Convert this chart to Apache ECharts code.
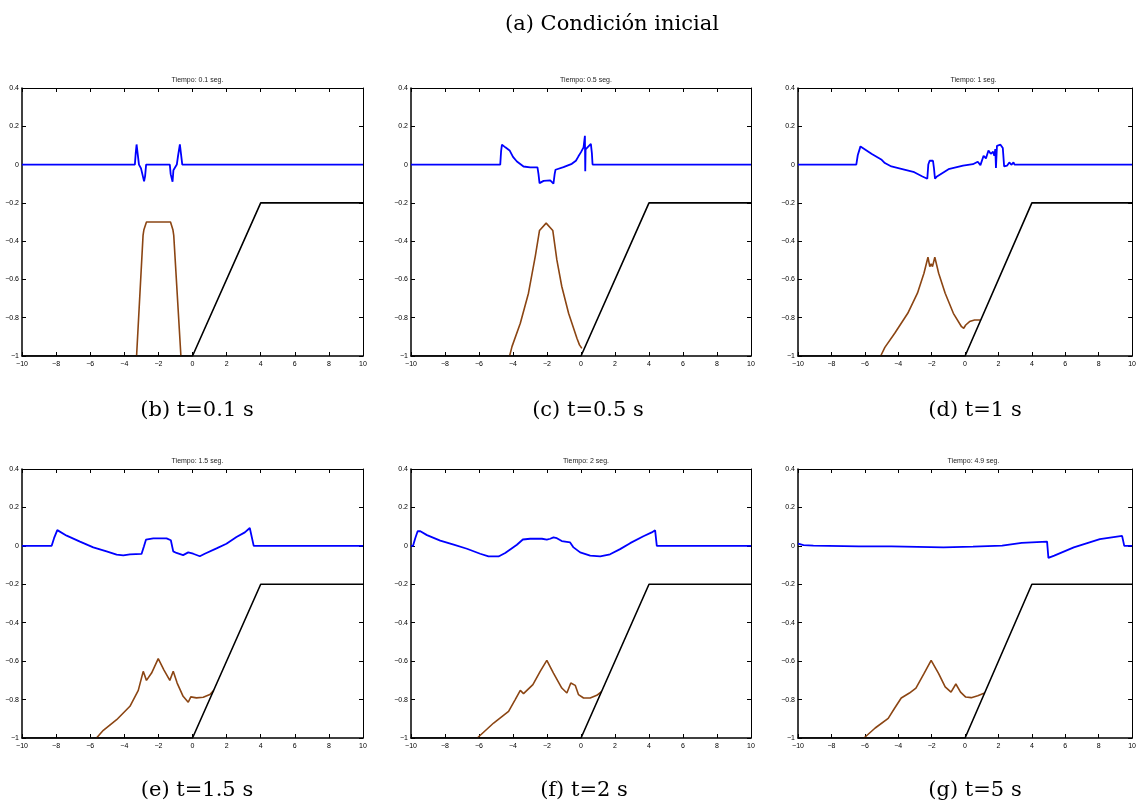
<!DOCTYPE html>
<html>
<head>
<meta charset="utf-8">
<script src="https://cdn.jsdelivr.net/npm/echarts@6/dist/echarts.min.js"></script>
<style>
html,body{margin:0;padding:0;background:#fff;}
#c{width:1139px;height:804px;}
</style>
</head>
<body>
<div id="c"></div>
<script>
// ---------- data ----------
const panelTitles = ["Tiempo: 0.1 seg.", "Tiempo: 0.5 seg.", "Tiempo: 1 seg.", "Tiempo: 1.5 seg.", "Tiempo: 2 seg.", "Tiempo: 4.9 seg."];
const captions = ["(b) t=0.1 s", "(c) t=0.5 s", "(d) t=1 s", "(e) t=1.5 s", "(f) t=2 s", "(g) t=5 s"];
const mainTitle = "(a) Condición inicial";

const bedX = [-10, 0, 4, 10];
const bedY = [-1, -1, -0.2, -0.2];

// free surface (blue)
const eta_b = [[-10,0],[-3.38,0],[-3.33,0.06],[-3.28,0.105],[-3.22,0.06],[-3.14,0.0],[-3.02,-0.02],[-2.92,-0.03],[-2.84,-0.088],[-2.78,-0.06],[-2.72,0],[-2.68,0],[-1.33,0],[-1.28,-0.05],[-1.17,-0.09],[-1.12,-0.03],[-1.02,-0.02],[-0.92,0],[-0.84,0.05],[-0.74,0.105],[-0.68,0.06],[-0.6,0],[10,0]];
const eta_c = [[-10,0],[-4.75,0],[-4.7,0.07],[-4.65,0.104],[-4.45,0.09],[-4.2,0.074],[-4.0,0.04],[-3.77,0.016],[-3.38,-0.01],[-2.99,-0.015],[-2.56,-0.015],[-2.5,-0.05],[-2.44,-0.097],[-2.34,-0.1],[-2.2,-0.085],[-2.1,-0.083],[-1.81,-0.083],[-1.7,-0.092],[-1.62,-0.1],[-1.55,-0.05],[-1.5,-0.027],[-1.03,-0.013],[-0.54,0.004],[-0.3,0.02],[-0.15,0.043],[0.0,0.065],[0.15,0.09],[0.23,0.15],[0.25,-0.035],[0.27,0.08],[0.38,0.09],[0.58,0.108],[0.64,0.06],[0.68,0],[10,0]];
const eta_d = [[-10,0],[-6.51,0],[-6.42,0.05],[-6.26,0.095],[-5.58,0.055],[-4.99,0.025],[-4.8,0.008],[-4.41,-0.01],[-3.82,-0.022],[-3.04,-0.04],[-2.55,-0.062],[-2.26,-0.074],[-2.2,0.0],[-2.12,0.02],[-1.92,0.02],[-1.86,-0.02],[-1.8,-0.074],[-1.68,-0.062],[-0.99,-0.024],[-0.12,-0.006],[0.47,0.002],[0.76,0.015],[0.92,-0.003],[1.11,0.046],[1.25,0.032],[1.4,0.074],[1.54,0.056],[1.68,0.067],[1.75,0.046],[1.81,0.081],[1.85,-0.018],[1.91,0.098],[2.12,0.104],[2.26,0.086],[2.34,-0.01],[2.51,-0.006],[2.65,0.011],[2.77,-0.001],[2.9,0.011],[2.96,0],[10,0]];
const eta_e = [[-10,0],[-8.26,0],[-8.12,0.04],[-7.93,0.082],[-7.38,0.053],[-6.6,0.022],[-5.82,-0.008],[-5.04,-0.029],[-4.45,-0.046],[-4.06,-0.05],[-3.67,-0.044],[-2.99,-0.042],[-2.85,-0.003],[-2.73,0.032],[-2.3,0.039],[-1.52,0.039],[-1.27,0.029],[-1.13,-0.029],[-0.94,-0.037],[-0.55,-0.048],[-0.25,-0.034],[0.04,-0.041],[0.43,-0.054],[0.72,-0.041],[1.41,-0.013],[1.99,0.011],[2.58,0.046],[3.07,0.07],[3.36,0.093],[3.46,0.088],[3.59,0],[10,0]];
const eta_f = [[-10,0],[-9.88,0],[-9.75,0.04],[-9.61,0.076],[-9.45,0.076],[-9.06,0.056],[-8.28,0.027],[-7.49,0.006],[-6.71,-0.015],[-5.93,-0.041],[-5.44,-0.055],[-4.85,-0.055],[-4.46,-0.037],[-4.06,-0.012],[-3.77,0.006],[-3.42,0.033],[-2.99,0.037],[-2.3,0.037],[-2.01,0.032],[-1.81,0.037],[-1.62,0.044],[-1.42,0.04],[-1.13,0.025],[-0.64,0.018],[-0.44,-0.008],[-0.05,-0.034],[0.54,-0.051],[1.13,-0.055],[1.71,-0.044],[2.3,-0.017],[2.89,0.014],[3.67,0.05],[4.16,0.07],[4.36,0.081],[4.46,0],[10,0]];
const eta_g = [[-10,0.012],[-9.67,0.004],[-9.08,0.001],[-6.35,-0.003],[-4.41,-0.003],[-1.29,-0.008],[0.47,-0.004],[2.22,0.001],[3.39,0.015],[4.91,0.022],[4.99,-0.063],[5.34,-0.051],[6.51,-0.008],[8.07,0.035],[9.4,0.052],[9.53,0],[10,0]];

// sediment interface (brown)
const sed_b = [[-3.28,-1],[-2.9,-0.37],[-2.85,-0.34],[-2.7,-0.3],[-1.29,-0.3],[-1.15,-0.34],[-1.1,-0.37],[-0.68,-1]];
const sed_c = [[-4.2,-1],[-4.06,-0.951],[-3.57,-0.829],[-3.09,-0.672],[-2.69,-0.48],[-2.44,-0.344],[-2.05,-0.306],[-1.66,-0.344],[-1.42,-0.498],[-1.13,-0.637],[-0.73,-0.777],[-0.24,-0.907],[-0.09,-0.942],[0.05,-0.96]];
const sed_d = [[-5.05,-1],[-4.8,-0.955],[-4.21,-0.881],[-3.43,-0.777],[-2.85,-0.672],[-2.46,-0.568],[-2.22,-0.484],[-2.11,-0.533],[-2.03,-0.519],[-1.95,-0.533],[-1.81,-0.484],[-1.58,-0.568],[-1.19,-0.672],[-0.7,-0.777],[-0.21,-0.847],[-0.08,-0.855],[0.04,-0.838],[0.27,-0.82],[0.57,-0.812],[0.9,-0.812]];
const sed_e = [[-5.63,-1],[-5.23,-0.96],[-4.45,-0.905],[-3.67,-0.835],[-3.18,-0.752],[-2.89,-0.653],[-2.7,-0.7],[-2.4,-0.662],[-2.01,-0.587],[-1.68,-0.645],[-1.33,-0.7],[-1.13,-0.653],[-0.9,-0.714],[-0.55,-0.783],[-0.25,-0.814],[-0.1,-0.786],[0.23,-0.791],[0.63,-0.788],[1.02,-0.774],[1.25,-0.752]];
const sed_f = [[-6.1,-1],[-5.14,-0.922],[-4.26,-0.861],[-3.87,-0.8],[-3.57,-0.752],[-3.38,-0.769],[-2.83,-0.722],[-2.4,-0.653],[-2.01,-0.596],[-1.62,-0.662],[-1.13,-0.74],[-0.83,-0.766],[-0.6,-0.714],[-0.34,-0.726],[-0.15,-0.774],[0.15,-0.792],[0.54,-0.792],[0.93,-0.778],[1.22,-0.758]];
const sed_g = [[-6.05,-1],[-5.38,-0.948],[-4.6,-0.898],[-4.21,-0.844],[-3.82,-0.792],[-3.33,-0.766],[-2.94,-0.74],[-2.46,-0.665],[-2.03,-0.596],[-1.58,-0.665],[-1.19,-0.734],[-0.84,-0.761],[-0.55,-0.719],[-0.27,-0.761],[0.04,-0.787],[0.37,-0.79],[0.76,-0.78],[1.17,-0.766]];

const etaList = [eta_b, eta_c, eta_d, eta_e, eta_f, eta_g];
const sedList = [sed_b, sed_c, sed_d, sed_e, sed_f, sed_g];

// ---------- layout ----------
const gridRects = [
  {left:22, top:88, width:341, height:268},
  {left:411, top:88, width:340, height:268},
  {left:798, top:88, width:341, height:268},
  {left:22, top:469, width:341, height:269},
  {left:411, top:469, width:340, height:269},
  {left:798, top:469, width:341, height:269}
];
const captionPos = [[192,395],[583,395],[970,395],[192,775],[579,775],[970,775]];

const fmt = v => {
  let s = (Math.round(v*10)/10).toString();
  return s.replace('-', '\u2212');
};

const bed = bedX.map((x,i)=>[x,bedY[i]]);

const grids = [], xAxes = [], yAxes = [], series = [], titles = [];
const axisLineMain = {show:true, onZero:false, lineStyle:{color:'#000', width:1.5}};
const axisLineMirror = {show:true, onZero:false, lineStyle:{color:'#000', width:1}};
const tick = {show:true, inside:true, length:4, lineStyle:{color:'#000', width:1}};
const lbl = {color:'#000', fontSize:7, fontFamily:'Liberation Sans, Arial, sans-serif', formatter: fmt};

gridRects.forEach((r,i)=>{
  grids.push(Object.assign({containLabel:false}, r));
  xAxes.push({type:'value', gridIndex:i, min:-10, max:10, interval:2, position:'bottom',
    axisLine:axisLineMain, axisTick:tick, axisLabel:Object.assign({margin:5}, lbl), splitLine:{show:false}});
  yAxes.push({type:'value', gridIndex:i, min:-1, max:0.4, interval:0.2, position:'left',
    axisLine:axisLineMain, axisTick:tick, axisLabel:Object.assign({margin:3}, lbl), splitLine:{show:false}});
  titles.push({text:panelTitles[i], left:r.left + r.width/2, top:r.top-16, textAlign:'center',
    textStyle:{fontSize:7, fontWeight:'normal', color:'#222', fontFamily:'Liberation Sans, Arial, sans-serif'}});
  titles.push({text:captions[i], left:captionPos[i][0], top:captionPos[i][1], textAlign:'center',
    textStyle:{fontSize:21, fontWeight:'normal', color:'#000', fontFamily:'DejaVu Serif, serif'}});
});
gridRects.forEach((r,i)=>{
  xAxes.push({type:'value', gridIndex:i, min:-10, max:10, interval:2, position:'top',
    axisLine:axisLineMirror, axisTick:tick, axisLabel:{show:false}, splitLine:{show:false}});
  yAxes.push({type:'value', gridIndex:i, min:-1, max:0.4, interval:0.2, position:'right',
    axisLine:axisLineMirror, axisTick:tick, axisLabel:{show:false}, splitLine:{show:false}});
});
titles.push({text:mainTitle, left:607, top:9, textAlign:'center',
  textStyle:{fontSize:21, fontWeight:'normal', color:'#000', fontFamily:'DejaVu Serif, serif'}});

for (let i=0;i<6;i++){
  series.push({type:'line', xAxisIndex:i, yAxisIndex:i, data:sedList[i], showSymbol:false, symbol:'none',
    lineStyle:{color:'#8B4513', width:1.6}, animation:false, z:3});
  series.push({type:'line', xAxisIndex:i, yAxisIndex:i, data:bed, showSymbol:false, symbol:'none',
    lineStyle:{color:'#000', width:1.6}, animation:false, z:4});
  series.push({type:'line', xAxisIndex:i, yAxisIndex:i, data:etaList[i], showSymbol:false, symbol:'none',
    lineStyle:{color:'#0000ff', width:1.8}, animation:false, z:5});
}

const chart = echarts.init(document.getElementById('c'), null, {renderer:'canvas'});
chart.setOption({backgroundColor:'#fff', animation:false, title:titles, grid:grids, xAxis:xAxes, yAxis:yAxes, series});
</script>
</body>
</html>
